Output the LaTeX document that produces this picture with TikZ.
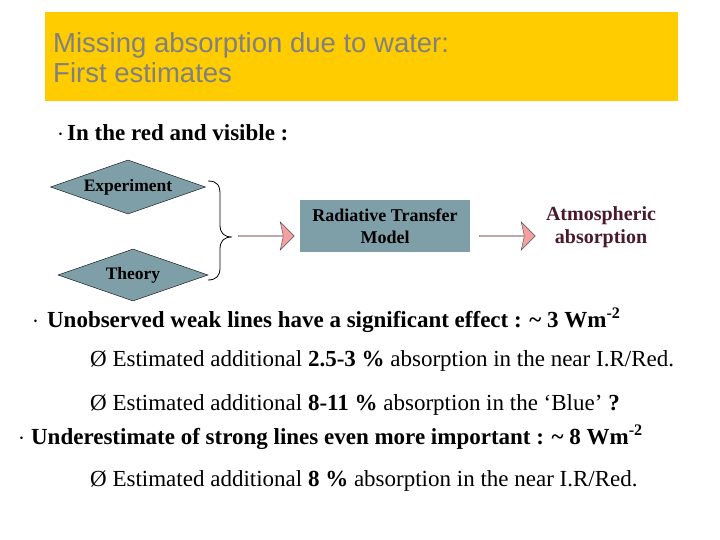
\documentclass[tikz,border=0pt]{standalone}
\usepackage{fontspec}
\setmainfont{Liberation Serif}
\newfontfamily\titlefont{Liberation Sans}
\usetikzlibrary{shapes.geometric,shapes.arrows}
\definecolor{gold}{HTML}{FFCC00}
\definecolor{slate}{HTML}{7F9FA8}
\definecolor{pinkar}{HTML}{F4A0A0}
\definecolor{maroon}{HTML}{4A1A2A}
\tikzset{
  dia/.style={diamond,draw=black,fill=slate,aspect=2.9,inner sep=1pt,font=\bfseries\fontsize{17.5}{17.5}\selectfont},
  bigarrow/.style={single arrow,draw=black!70,fill=pinkar,minimum height=56pt,minimum width=28pt,single arrow head extend=6pt,single arrow head indent=3pt,inner sep=0pt},
  body/.style={anchor=west,font=\fontsize{23}{26}\selectfont,inner sep=0pt},
}
\begin{document}
\begin{tikzpicture}[x=1pt,y=-1pt]
\useasboundingbox (0,0) rectangle (720,540);
\fill[white] (0,0) rectangle (720,540);
\node[fill=gold,minimum width=633pt,minimum height=89pt,anchor=north west,inner sep=0pt] (title) at (45,12) {};
\node[anchor=west,align=left,text=black!50,font=\titlefont\fontsize{27.5}{30}\selectfont,inner sep=0pt] (titletext) at (53,58) {Missing absorption due to water:\\First estimates};
\node[body,font=\bfseries\fontsize{23}{26}\selectfont] (b1) at (57,133) {$\cdot$\hspace{3pt}In the red and visible :};
\node[dia,minimum width=155pt,minimum height=54pt] (exp) at (128,187) {Experiment};
\node[dia,minimum width=150pt,minimum height=52pt] (theo) at (133,275) {Theory};
\coordinate (bt) at (208,181);
\coordinate (bb) at (208,280);
\draw[thick] (bt) .. controls (218,181) and (220,186) .. (220,195) -- (220,225) .. controls (220,233) and (224,237) .. (232,237) .. controls (224,237) and (220,241) .. (220,249) -- (220,268) .. controls (220,276) and (216,280) .. (bb);
\node[bigarrow] (a1) at (266,236) {};
\node[fill=slate,minimum width=170pt,minimum height=51pt,inner sep=0pt,align=center,font=\bfseries\fontsize{18}{22}\selectfont] (rtm) at (385,226) {Radiative Transfer\\Model};
\node[bigarrow] (a2) at (507,236) {};
\node[align=center,text=maroon,font=\bfseries\fontsize{20}{23}\selectfont] (atm) at (601,227) {Atmospheric\\absorption};
\node[body,font=\bfseries\fontsize{23}{26}\selectfont] (b2) at (32,320) {$\cdot$\hspace{8pt}Unobserved weak lines have a significant effect : \textasciitilde{} 3 Wm\textsuperscript{-2}};
\node[body] (s1) at (90,361) {Ø Estimated additional \textbf{2.5-3 \%} absorption in the near I.R/Red.};
\node[body] (s2) at (90,405) {Ø Estimated additional \textbf{8-11 \%} absorption in the ‘Blue’ \textbf{?}};
\node[body,font=\bfseries\fontsize{23}{26}\selectfont] (b3) at (18,437) {$\cdot$\hspace{6pt}Underestimate of strong lines even more important : \textasciitilde{} 8 Wm\textsuperscript{-2}};
\node[body] (s3) at (90,481) {Ø Estimated additional \textbf{8 \%} absorption in the near I.R/Red.};
\end{tikzpicture}
\end{document}
